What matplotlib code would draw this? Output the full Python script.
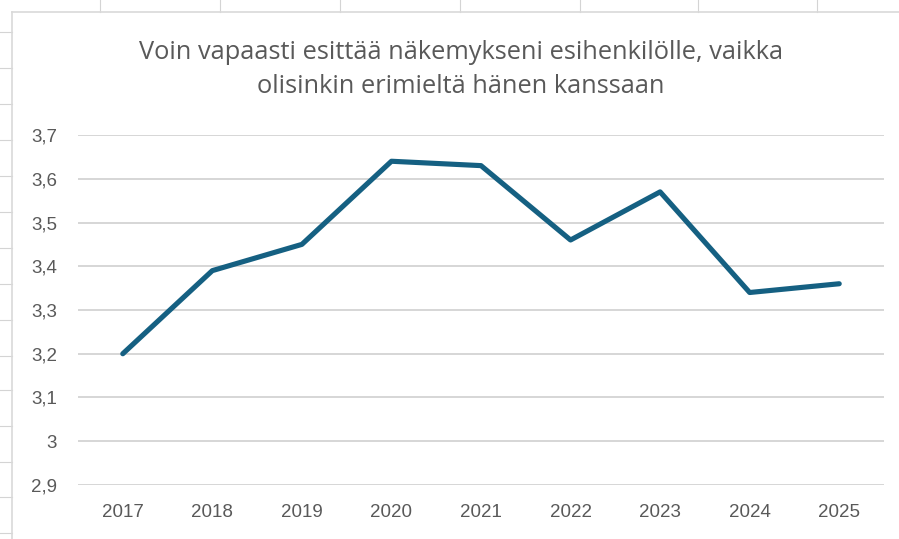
import matplotlib.pyplot as plt
from matplotlib.lines import Line2D
from matplotlib.ticker import FuncFormatter, MultipleLocator

years = ['2017', '2018', '2019', '2020', '2021', '2022', '2023', '2024', '2025']
values = [3.20, 3.39, 3.45, 3.64, 3.63, 3.46, 3.57, 3.34, 3.36]
title_lines = ['Voin vapaasti esittää näkemykseni esihenkilölle, vaikka',
               'olisinkin erimieltä hänen kanssaan']

W, H = 899, 539
fig = plt.figure(figsize=(W / 100, H / 100), dpi=100)
fig.patch.set_facecolor('white')

# faint spreadsheet cells behind the chart
def px_line(x0, y0, x1, y1, c='#d4d4d4', lw=0.8):
    fig.add_artist(Line2D([x0 / W, x1 / W], [1 - y0 / H, 1 - y1 / H], color=c, lw=lw))

for cx in [100, 220, 340, 460, 580, 698, 817]:
    px_line(cx, 0, cx, 12)
for ry in [32, 68, 104, 140, 176, 212, 248, 284, 320, 356, 390, 426, 462, 497, 533]:
    px_line(0, ry, 12, ry)
px_line(12, 12, W, 12, c='#d9d9d9', lw=1.2)
px_line(12, 12, 12, H, c='#d9d9d9', lw=1.2)

ax = fig.add_axes([78 / W, 54 / H, (884 - 78) / W, (485 - 135) / H])
x = list(range(len(years)))
ax.plot(x, values, color='#156082', lw=3.7, solid_capstyle='round', solid_joinstyle='round', zorder=3)

ax.set_xlim(-0.5, len(years) - 0.5)
ax.set_ylim(2.9, 3.7)
ax.yaxis.set_major_locator(MultipleLocator(0.1))
ax.yaxis.set_major_formatter(FuncFormatter(lambda v, p: ('%.1f' % v).rstrip('0').rstrip('.').replace('.', ',')))
ax.set_xticks(x)
ax.set_xticklabels(years)
ax.grid(axis='y', color='#d6d6d6', lw=1.4)
ax.set_axisbelow(True)
for s in ax.spines.values():
    s.set_visible(False)
ax.tick_params(length=0, labelsize=13.5, labelcolor='#595959', labelfontfamily='Liberation Sans')
ax.tick_params(axis='y', pad=15)
ax.tick_params(axis='x', pad=14)

for i, line in enumerate(title_lines):
    fig.text(461 / W, 1 - (59 + 34 * i) / H, line, ha='center', va='baseline', fontsize=18.3,
             color='#595959', family='Open Sans')

fig.savefig('out.png', dpi=100)
